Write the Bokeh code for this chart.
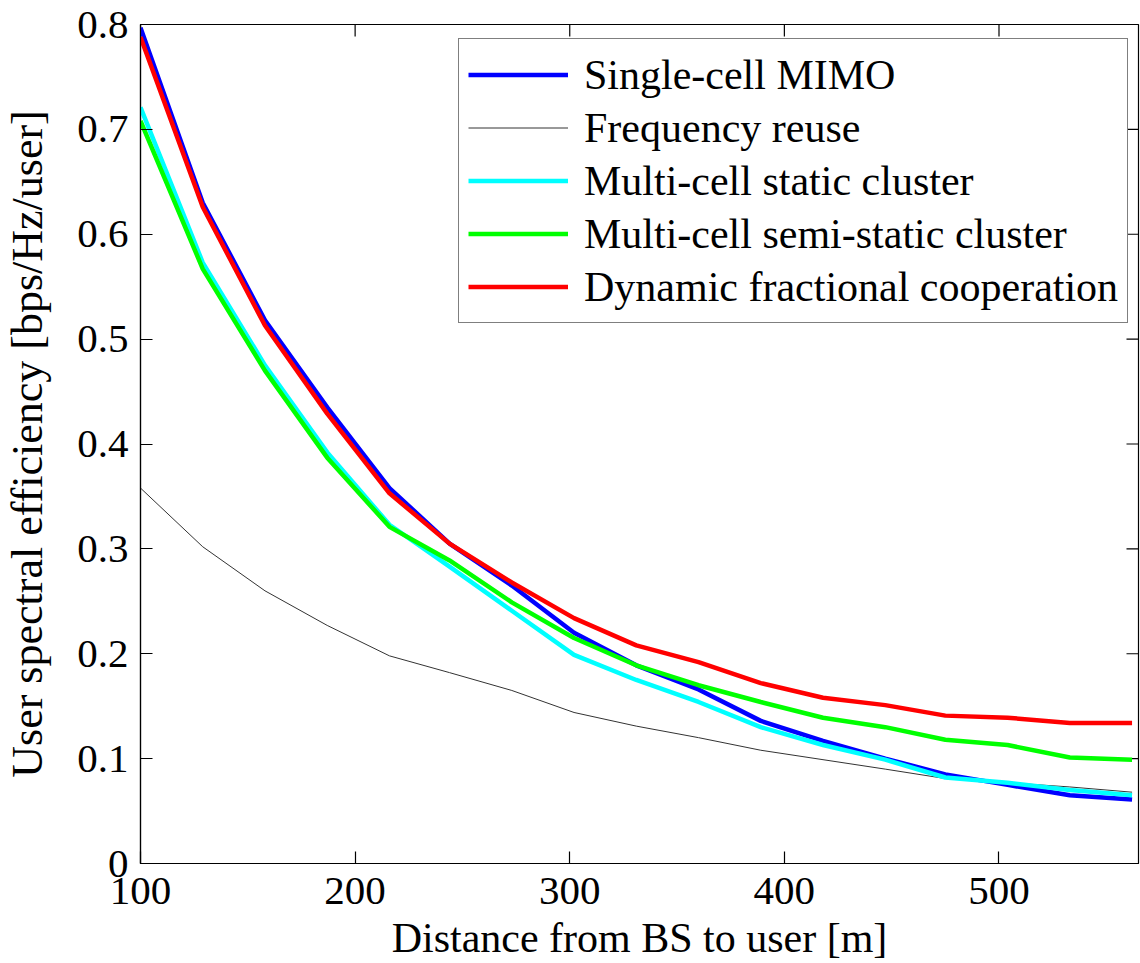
import math
from bokeh.plotting import figure
from bokeh.models import FixedTicker, Legend, LegendItem
from bokeh.embed import file_html
from bokeh.resources import INLINE

# ---- data ----
distance = [100, 129, 158, 187, 216, 244, 273, 302, 331, 360, 389, 418, 447, 475, 504, 533, 562]
single_cell_mimo = [0.797, 0.630, 0.518, 0.435, 0.358, 0.305, 0.265, 0.220, 0.189, 0.166,
                    0.136, 0.117, 0.100, 0.085, 0.075, 0.065, 0.061]
frequency_reuse = [0.358, 0.302, 0.260, 0.227, 0.198, 0.182, 0.165, 0.144, 0.131, 0.120,
                   0.108, 0.099, 0.090, 0.081, 0.077, 0.073, 0.068]
multi_static = [0.721, 0.573, 0.475, 0.392, 0.323, 0.283, 0.241, 0.199, 0.175, 0.154,
                0.130, 0.113, 0.099, 0.082, 0.077, 0.070, 0.065]
multi_semi_static = [0.708, 0.567, 0.470, 0.387, 0.321, 0.289, 0.249, 0.215, 0.189, 0.170,
                     0.154, 0.139, 0.130, 0.118, 0.113, 0.101, 0.099]
dynamic_fractional = [0.788, 0.626, 0.513, 0.429, 0.353, 0.305, 0.268, 0.234, 0.208, 0.192,
                      0.172, 0.158, 0.151, 0.141, 0.139, 0.134, 0.134]

series_names = ["Single-cell MIMO", "Frequency reuse", "Multi-cell static cluster",
                "Multi-cell semi-static cluster", "Dynamic fractional cooperation"]

x_ticks = [100, 200, 300, 400, 500]
y_ticks = [0, 0.1, 0.2, 0.3, 0.4, 0.5, 0.6, 0.7, 0.8]
y_tick_labels = ["0", "0.1", "0.2", "0.3", "0.4", "0.5", "0.6", "0.7", "0.8"]

X_MIN, X_MAX = 100, 565
Y_MIN, Y_MAX = 0, 0.8

FONT = "Liberation Serif"
TICK_FS = "41px"
FS = "42px"

p = figure(width=1140, height=963, x_range=(X_MIN, X_MAX), y_range=(Y_MIN, Y_MAX),
           output_backend="svg", toolbar_location=None,
           min_border_left=137, min_border_top=24, min_border_right=2, min_border_bottom=100)

p.xgrid.visible = False
p.ygrid.visible = False
p.outline_line_color = "black"
p.outline_line_width = 1.2
p.outline_line_alpha = 1.0
p.background_fill_color = "white"
p.border_fill_color = "white"

for ax in (p.xaxis[0], p.yaxis[0]):
    ax.axis_line_color = "black"
    ax.axis_line_width = 1.2
    ax.major_tick_in = 12
    ax.major_tick_out = 0
    ax.minor_tick_in = 0
    ax.minor_tick_out = 0
    ax.major_tick_line_color = "black"
    ax.major_tick_line_width = 1.2
    ax.major_label_text_font = FONT
    ax.major_label_text_font_size = TICK_FS
    ax.major_label_text_color = "black"
    ax.axis_label_text_font = FONT
    ax.axis_label_text_font_style = "normal"
    ax.axis_label_text_color = "black"

xax = p.xaxis[0]
xax.ticker = FixedTicker(ticks=x_ticks)
xax.major_label_standoff = 14
xax.axis_label = "Distance from BS to user [m]"
xax.axis_label_text_font_size = FS
xax.axis_label_standoff = 8

yax = p.yaxis[0]
yax.ticker = FixedTicker(ticks=y_ticks)
yax.major_label_overrides = {t: l for t, l in zip(y_ticks, y_tick_labels)}
yax.major_label_standoff = 12
yax.axis_label = "User spectral efficiency [bps/Hz/user]"
yax.axis_label_text_font_size = "44px"
yax.axis_label_standoff = 22

# inward ticks on the top and right frame edges (MATLAB box style)
p.ray(x=x_ticks, y=[Y_MAX] * len(x_ticks), length=12, length_units="screen",
      angle=-math.pi / 2, line_color="black", line_width=1.2)
p.ray(x=[X_MAX] * len(y_ticks), y=y_ticks, length=12, length_units="screen",
      angle=math.pi, line_color="black", line_width=1.2)

r_blue = p.line(distance, single_cell_mimo, line_color="#0000ff", line_width=4.5)
r_black = p.line(distance, frequency_reuse, line_color="#333333", line_width=1)
r_cyan = p.line(distance, multi_static, line_color="#00ffff", line_width=4.5)
r_green = p.line(distance, multi_semi_static, line_color="#00ff00", line_width=4.5)
r_red = p.line(distance, dynamic_fractional, line_color="#ff0000", line_width=4.5)

renderers = [r_blue, r_black, r_cyan, r_green, r_red]
legend = Legend(items=[LegendItem(label=n, renderers=[r]) for n, r in zip(series_names, renderers)],
                location=(318, 540))
legend.label_text_font = FONT
legend.label_text_font_size = FS
legend.label_text_color = "black"
legend.glyph_width = 100
legend.glyph_height = 53
legend.label_height = 53
legend.spacing = 0
legend.padding = 9
legend.label_standoff = 16
legend.margin = 0
legend.border_line_color = "black"
legend.border_line_width = 1.2
legend.background_fill_color = "white"
legend.background_fill_alpha = 1.0
p.add_layout(legend, "center")

open("out.html", "w").write(file_html(p, INLINE))
